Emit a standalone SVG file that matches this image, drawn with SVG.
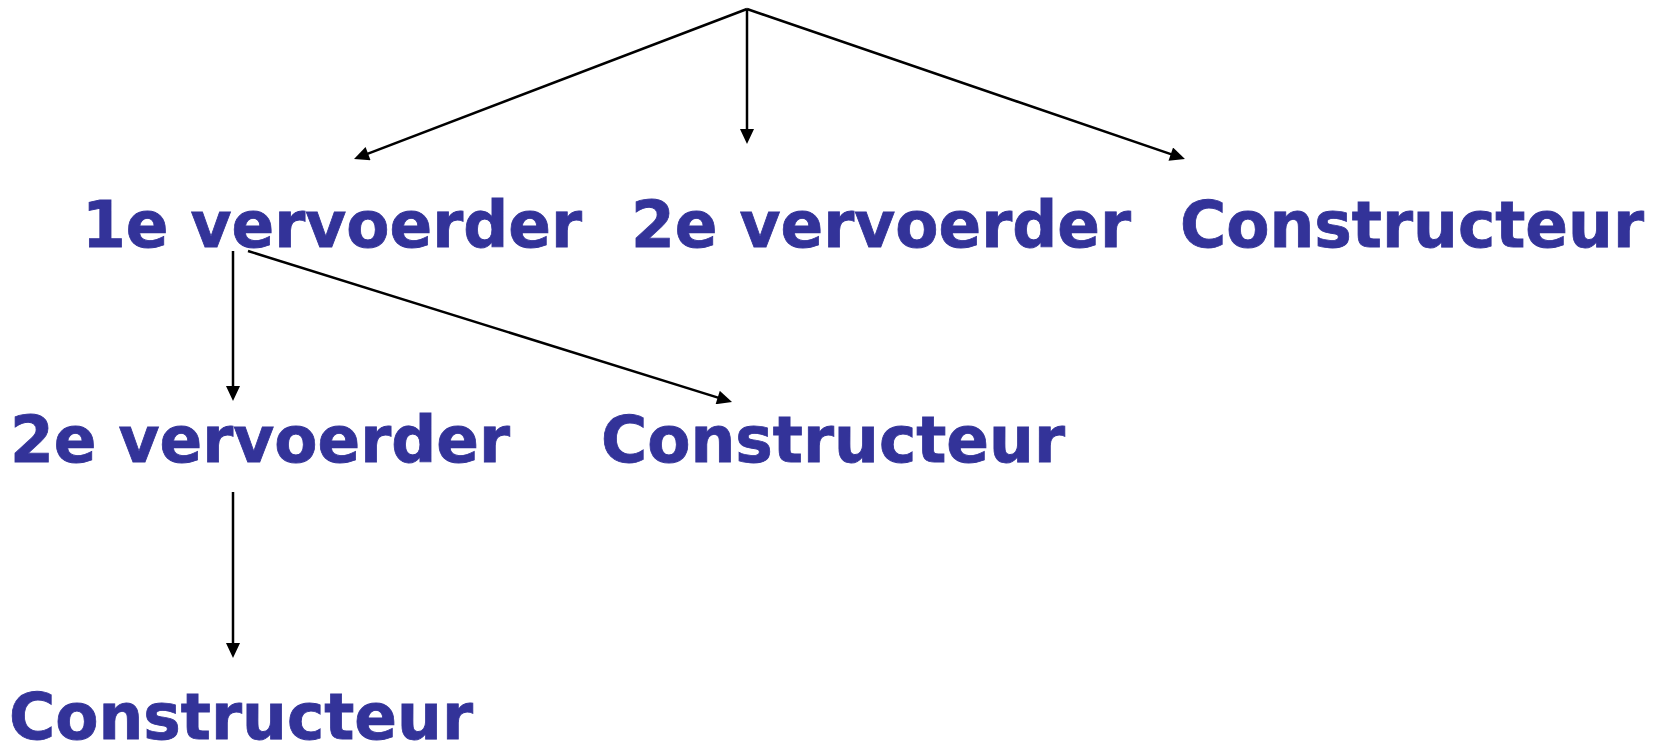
<svg xmlns="http://www.w3.org/2000/svg" width="1663" height="741" viewBox="0 0 1663 741">
<style>
.lbl{font-family:"DejaVu Sans","Verdana",sans-serif;font-weight:bold;font-size:64px;fill:#333399;stroke:#333399;stroke-width:0.8}
.cn{stroke:#000;stroke-width:2.5;fill:none;marker-end:url(#ah)}
</style>
<defs>
<marker id="ah" markerUnits="userSpaceOnUse" markerWidth="16" markerHeight="14" viewBox="0 0 15 14" refX="7" refY="7" orient="auto">
<path d="M0,0 L15,7 L0,14 z" fill="#000"/>
</marker>
</defs>
<rect width="1663" height="741" fill="#fff"/>
<g id="connectors">
<line class="cn" x1="747" y1="9" x2="361.5" y2="156.1"/>
<line class="cn" x1="747" y1="9" x2="747" y2="136"/>
<line class="cn" x1="747" y1="9" x2="1177.4" y2="156.4"/>
<line class="cn" x1="233" y1="251" x2="233" y2="393"/>
<line class="cn" x1="248" y1="251" x2="724.4" y2="399.6"/>
<line class="cn" x1="233" y1="492" x2="233" y2="650"/>
</g>
<g id="n1"><text class="lbl" x="82" y="247" textLength="500" lengthAdjust="spacingAndGlyphs">1e vervoerder</text></g>
<g id="n2"><text class="lbl" x="631" y="247" textLength="500" lengthAdjust="spacingAndGlyphs">2e vervoerder</text></g>
<g id="n3"><text class="lbl" x="1180" y="247" textLength="464" lengthAdjust="spacingAndGlyphs">Constructeur</text></g>
<g id="n4"><text class="lbl" x="10" y="462" textLength="500" lengthAdjust="spacingAndGlyphs">2e vervoerder</text></g>
<g id="n5"><text class="lbl" x="601" y="462" textLength="464" lengthAdjust="spacingAndGlyphs">Constructeur</text></g>
<g id="n6"><text class="lbl" x="9" y="739" textLength="464" lengthAdjust="spacingAndGlyphs">Constructeur</text></g>
</svg>
